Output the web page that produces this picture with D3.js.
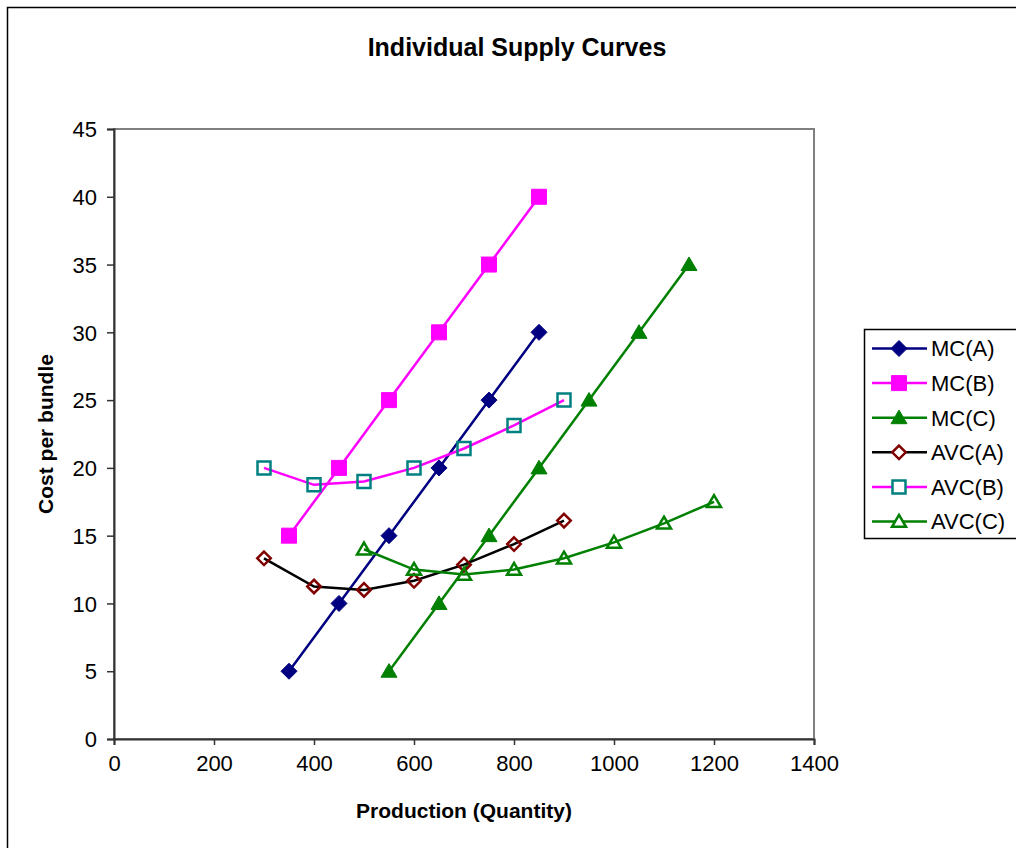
<!DOCTYPE html>
<html>
<head>
<meta charset="utf-8">
<script src="https://cdn.jsdelivr.net/npm/d3@7"></script>
<style>
  html, body { margin: 0; padding: 0; background: #fff; }
  svg { display: block; font-family: "Liberation Sans", Arial, sans-serif; }
</style>
</head>
<body>
<svg id="chart" width="1016" height="848"></svg>
<script>
// ---- Data ----
const mcA = [[350,5],[450,10],[550,15],[650,20],[750,25],[850,30]];
const mcB = [[350,15],[450,20],[550,25],[650,30],[750,35],[850,40]];
const mcC = [[550,5],[650,10],[750,15],[850,20],[950,25],[1050,30],[1150,35]];
const avcA = [[300,13.33],[400,11.25],[500,11],[600,11.67],[700,12.86],[800,14.38],[900,16.11]];
const avcB = [[300,20],[400,18.75],[500,19],[600,20],[700,21.43],[800,23.13],[900,25]];
const avcC = [[500,14],[600,12.5],[700,12.14],[800,12.5],[900,13.33],[1000,14.5],[1100,15.91],[1200,17.5]];
const xTicks = [0,200,400,600,800,1000,1200,1400];
const yTicks = [0,5,10,15,20,25,30,35,40,45];
const seriesNames = ["MC(A)","MC(B)","MC(C)","AVC(A)","AVC(B)","AVC(C)"];

const series = [
  {name: seriesNames[0], data: mcA, line: "#000080", sym: "diamond", fill: "#000080", stroke: "#000080", size: 16},
  {name: seriesNames[1], data: mcB, line: "#FF00FF", sym: "square", fill: "#FF00FF", stroke: "#FF00FF", size: 15},
  {name: seriesNames[2], data: mcC, line: "#008000", sym: "triangle", fill: "#008000", stroke: "#008000", size: 16},
  {name: seriesNames[3], data: avcA, line: "#000000", sym: "diamond", fill: "none", stroke: "#800000", size: 13.5},
  {name: seriesNames[4], data: avcB, line: "#FF00FF", sym: "square", fill: "none", stroke: "#008080", size: 13},
  {name: seriesNames[5], data: avcC, line: "#008000", sym: "triangle", fill: "none", stroke: "#008000", size: 14}
];

const svg = d3.select("#chart");
const plot = {left: 114, right: 814, top: 129, bottom: 739};

const x = d3.scaleLinear().domain([0,1400]).range([plot.left, plot.right]);
const y = d3.scaleLinear().domain([0,45]).range([plot.bottom, plot.top]);

// Outer chart border
svg.append("rect").attr("x",7.5).attr("y",7.5).attr("width",1100).attr("height",900)
  .attr("fill","#fff").attr("stroke","#000").attr("stroke-width",1.5);

// Plot area border (gray)
svg.append("rect").attr("x",plot.left).attr("y",plot.top)
  .attr("width",plot.right-plot.left).attr("height",plot.bottom-plot.top)
  .attr("fill","#fff").attr("stroke","#808080").attr("stroke-width",2);

// Axes
const xAxis = d3.axisBottom(x).tickValues(xTicks).tickSize(6).tickPadding(10).tickFormat(d3.format("d"));
const yAxis = d3.axisLeft(y).tickValues(yTicks).tickSize(7).tickPadding(10).tickFormat(d3.format("d"));

const gx = svg.append("g").attr("transform",`translate(0,${plot.bottom})`).call(xAxis);
const gy = svg.append("g").attr("transform",`translate(${plot.left},0)`).call(yAxis);
[gx, gy].forEach(g => {
  g.select(".domain").attr("stroke","#333").attr("stroke-width",2);
  g.selectAll(".tick line").attr("stroke","#333").attr("stroke-width",1.5);
  g.selectAll(".tick text").attr("font-size",22).attr("fill","#000")
    .attr("font-family","'Liberation Sans', Arial, sans-serif");
});
gx.selectAll(".tick text").attr("dy","0.71em");
gy.selectAll(".tick text").attr("dy","0.35em");

// Titles
svg.append("text").attr("x",517).attr("y",56).attr("text-anchor","middle")
  .attr("font-size",25).attr("font-weight","bold").text("Individual Supply Curves");
svg.append("text").attr("x",464).attr("y",818).attr("text-anchor","middle")
  .attr("font-size",21).attr("font-weight","bold").text("Production (Quantity)");
svg.append("text").attr("transform",`translate(53,${(plot.top+plot.bottom)/2}) rotate(-90)`)
  .attr("text-anchor","middle").attr("font-size",21).attr("font-weight","bold").text("Cost per bundle");

// Marker path generator
function markerPath(sym, s) {
  const h = s/2;
  if (sym === "diamond") return `M0,${-h}L${h},0L0,${h}L${-h},0Z`;
  if (sym === "square") return `M${-h},${-h}H${h}V${h}H${-h}Z`;
  // triangle
  return `M0,${-h*0.95}L${h},${h*0.75}L${-h},${h*0.75}Z`;
}

const line = d3.line().x(d => x(d[0])).y(d => y(d[1]));

series.forEach(s => {
  const g = svg.append("g");
  g.append("path").datum(s.data).attr("d", line)
    .attr("fill","none").attr("stroke", s.line).attr("stroke-width",2.5);
  g.selectAll("path.m").data(s.data).join("path").attr("class","m")
    .attr("transform", d => `translate(${x(d[0])},${y(d[1])})`)
    .attr("d", markerPath(s.sym, s.size))
    .attr("fill", s.fill === "none" ? "#fff" : s.fill)
    .attr("fill-opacity", s.fill === "none" ? 0 : 1)
    .attr("stroke", s.stroke).attr("stroke-width", s.fill === "none" ? 2.5 : 1);
});

// Legend
const legend = svg.append("g");
legend.append("rect").attr("x",864.5).attr("y",329.5).attr("width",200).attr("height",209)
  .attr("fill","#fff").attr("stroke","#000").attr("stroke-width",1.5);
series.forEach((s,i) => {
  const yy = 348.5 + i*34.6;
  legend.append("line").attr("x1",872).attr("x2",927).attr("y1",yy).attr("y2",yy)
    .attr("stroke", s.line).attr("stroke-width",2.5);
  legend.append("path").attr("transform",`translate(899,${yy})`)
    .attr("d", markerPath(s.sym, s.size))
    .attr("fill", s.fill === "none" ? "#fff" : s.fill)
    .attr("stroke", s.stroke).attr("stroke-width", s.fill === "none" ? 2.5 : 1);
  legend.append("text").attr("x",931).attr("y",yy).attr("dy","0.36em")
    .attr("font-size",22).attr("fill","#000").text(s.name);
});
</script>
</body>
</html>
